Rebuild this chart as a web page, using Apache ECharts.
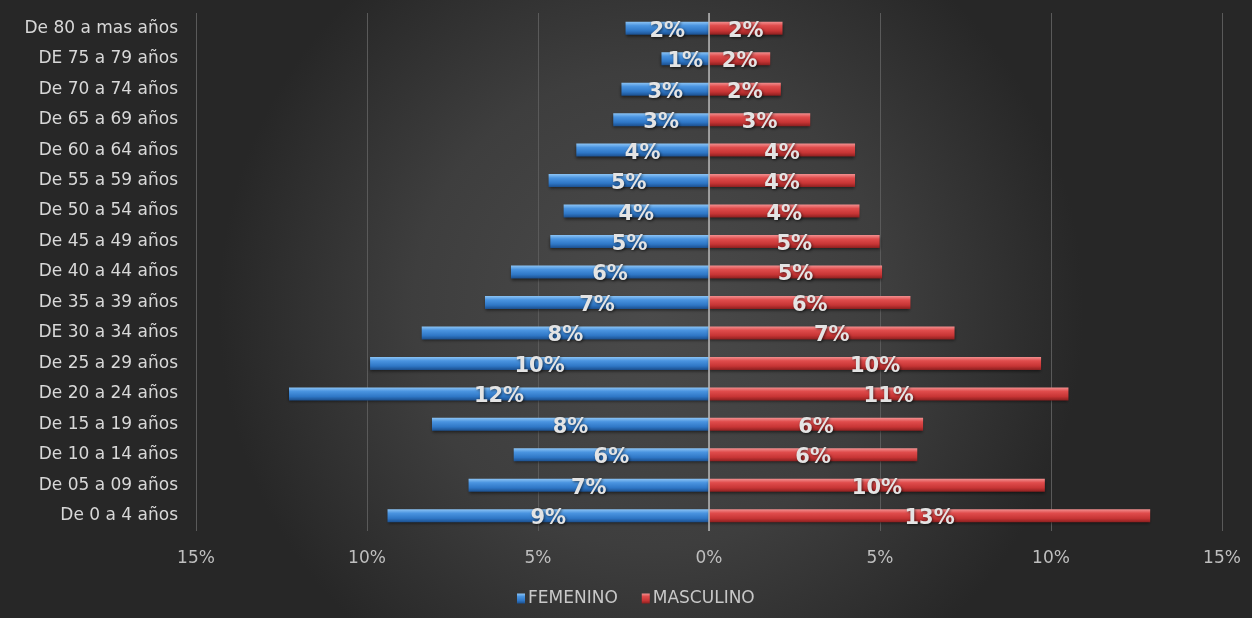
<!DOCTYPE html>
<html>
<head>
<meta charset="utf-8">
<script src="https://cdn.jsdelivr.net/npm/echarts@6/dist/echarts.min.js"></script>
<style>
html,body{margin:0;padding:0;background:#2b2b2b;}
#c{width:1252px;height:618px;}
</style>
</head>
<body>
<div id="c"></div>
<script>
// Categories, top to bottom
const categories = [
  'De 80 a mas años','DE 75 a 79 años','De 70 a 74 años','De 65 a 69 años',
  'De 60 a 64 años','De 55 a 59 años','De 50 a 54 años','De 45 a 49 años',
  'De 40 a 44 años','De 35 a 39 años','DE 30 a 34 años','De 25 a 29 años',
  'De 20 a 24 años','De 15 a 19 años','De 10 a 14 años','De 05 a 09 años',
  'De 0 a 4 años'
];
// Percent values (same order as categories)
const femenino = [2.44,1.39,2.56,2.80,3.88,4.69,4.25,4.64,5.79,6.55,8.40,9.91,12.28,8.10,5.71,7.03,9.40];
const masculino = [2.15,1.79,2.10,2.96,4.27,4.27,4.40,4.99,5.06,5.89,7.18,9.71,10.51,6.26,6.09,9.82,12.90];
const xTicks = [-15,-10,-5,0,5,10,15];

const chart = echarts.init(document.getElementById('c'));
const font = 'DejaVu Sans';
const labelStyle = {
  show: true,
  position: 'inside',
  offset: [0, 3],
  color: '#e4e4e4',
  fontFamily: font,
  fontWeight: 'bold',
  fontSize: 21,
  textShadowColor: 'rgba(0,0,0,0.6)',
  textShadowBlur: 3,
  textShadowOffsetX: 1,
  textShadowOffsetY: 1,
  formatter: p => Math.round(Math.abs(p.value)) + '%'
};
chart.setOption({
  backgroundColor: {
    type: 'radial', x: 0.52, y: 0.5, r: 0.7,
    colorStops: [
      {offset: 0, color: '#4b4b4b'},
      {offset: 0.55, color: '#3e3e3e'},
      {offset: 1, color: '#272727'}
    ]
  },
  animation: false,
  grid: {left: 196, right: 30, top: 13, bottom: 87, containLabel: false},
  legend: {
    left: 512, top: 585,
    icon: 'rect', itemWidth: 8, itemHeight: 10, itemGap: 24, itemStyle: {borderWidth: 0},
    textStyle: {color: '#c8c8c8', fontFamily: font, fontSize: 17, padding: [0, 0, 0, -2]},
    data: ['FEMENINO','MASCULINO']
  },
  xAxis: {
    type: 'value', min: -15, max: 15, interval: 5,
    axisLine: {show: false}, axisTick: {show: false},
    splitLine: {show: true, lineStyle: {color: '#5a5a5a', width: 1}},
    axisLabel: {
      color: '#bfbfbf', fontFamily: font, fontSize: 17, margin: 19,
      formatter: v => Math.abs(v) + '%'
    }
  },
  yAxis: {
    type: 'category', data: categories, inverse: true,
    axisLine: {show: false}, axisTick: {show: false},
    axisLabel: {color: '#d8d8d8', fontFamily: font, fontSize: 17, margin: 18}
  },
  series: [
    {
      name: 'FEMENINO', type: 'bar', stack: 'p', barWidth: 13,
      data: femenino.map(v => -v),
      itemStyle: {
        color: {type: 'linear', x: 0, y: 0, x2: 0, y2: 1, colorStops: [
          {offset: 0, color: '#8cc4f5'},
          {offset: 0.3, color: '#4a94e0'},
          {offset: 0.7, color: '#2f77c6'},
          {offset: 1, color: '#1b4f8e'}
        ]},
        shadowColor: 'rgba(0,0,0,0.5)', shadowBlur: 3, shadowOffsetY: 2
      },
      label: labelStyle,
      markLine: {
        silent: true, symbol: 'none', label: {show: false},
        lineStyle: {color: '#b8b8b8', type: 'solid', width: 1.5},
        data: [{xAxis: 0}]
      }
    },
    {
      name: 'MASCULINO', type: 'bar', stack: 'p', barWidth: 13,
      data: masculino,
      itemStyle: {
        color: {type: 'linear', x: 0, y: 0, x2: 0, y2: 1, colorStops: [
          {offset: 0, color: '#f29090'},
          {offset: 0.3, color: '#e04c4c'},
          {offset: 0.7, color: '#c73535'},
          {offset: 1, color: '#8c1f1f'}
        ]},
        shadowColor: 'rgba(0,0,0,0.5)', shadowBlur: 3, shadowOffsetY: 2
      },
      label: labelStyle
    }
  ]
});
</script>
</body>
</html>
